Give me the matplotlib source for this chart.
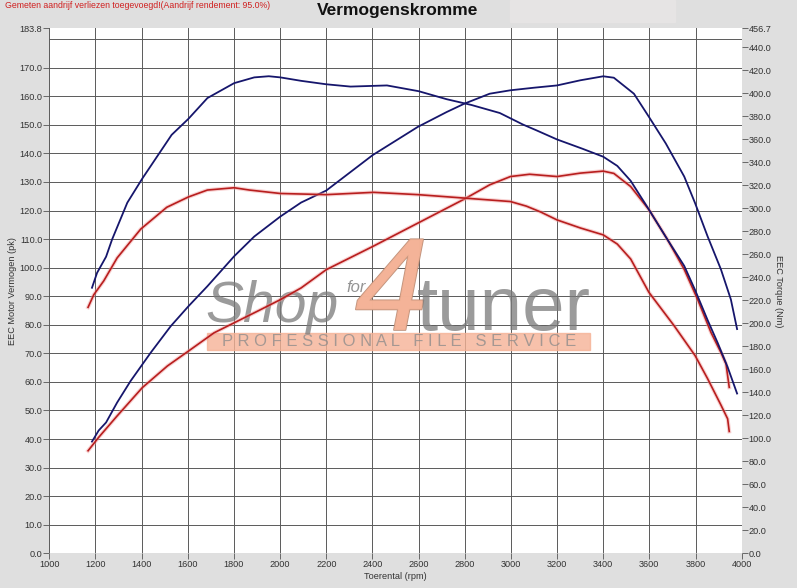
import matplotlib
matplotlib.use("Agg")
import matplotlib.pyplot as plt
import matplotlib.patheffects as pe
from matplotlib.patches import Rectangle

# tuned (blue) torque, Nm
rpm_tq_tuned = [1185, 1207, 1246, 1272, 1338, 1403, 1530, 1603, 1685, 1801, 1888, 1951, 2001, 2091,
                2200, 2305, 2463, 2600, 2722, 2829, 2952, 3052, 3110, 3200, 3309, 3400, 3461, 3519,
                3598, 3678, 3751, 3798, 3852, 3896, 3939, 3980]
tq_tuned = [231, 244, 258, 273, 305, 326, 364, 378, 396, 409, 414, 415, 414, 411,
            408, 406, 407, 402, 395, 390, 383, 373, 368, 360, 352, 345, 337, 324,
            299, 273, 250, 229, 203, 183, 162, 139]

# tuned (blue) power, pk
rpm_pk_tuned = [1185, 1214, 1246, 1294, 1352, 1439, 1526, 1603, 1685, 1801, 1888, 2001, 2091, 2200,
                2401, 2597, 2722, 2798, 2908, 2998, 3100, 3200, 3301, 3400, 3446, 3533, 3598, 3671,
                3751, 3798, 3852, 3910, 3953, 3980]
pk_tuned = [39.1, 43.0, 45.8, 52.8, 60.3, 70.2, 79.5, 86.5, 93.5, 104.0, 110.9, 117.9, 122.8, 127.0,
            139.4, 149.3, 154.5, 157.4, 160.9, 162.1, 163.0, 163.8, 165.6, 167.0, 166.5, 160.9, 152.8, 143.5,
            131.9, 122.6, 111.0, 99.4, 88.9, 78.5]

# stock (red) torque, Nm
rpm_tq_stock = [1168, 1193, 1236, 1294, 1396, 1509, 1603, 1685, 1801, 1867, 2001, 2200, 2405, 2597,
                2798, 2998, 3067, 3128, 3200, 3301, 3400, 3461, 3519, 3598, 3707, 3798, 3852, 3910,
                3939, 3946]
tq_stock = [214, 225, 237, 257, 282, 301, 310, 316, 318, 316, 313, 312, 314, 312,
            309, 306, 302, 297, 290, 283, 277, 269, 256, 227, 198, 172, 152, 129,
            117, 106]

# stock (red) power, pk
rpm_pk_stock = [1168, 1214, 1294, 1403, 1512, 1603, 1714, 1801, 1903, 2001, 2091, 2200, 2401, 2597,
                2798, 2908, 2998, 3081, 3200, 3301, 3400, 3446, 3519, 3598, 3678, 3751, 3809, 3867,
                3910, 3932, 3946]
pk_stock = [35.9, 40.6, 48.1, 58.0, 65.6, 70.8, 77.2, 80.7, 84.8, 88.8, 92.9, 99.3, 107.4, 115.6,
            124.0, 129.0, 131.9, 132.7, 131.9, 133.1, 133.8, 133.0, 128.4, 120.3, 109.9, 99.4, 88.9, 77.3,
            70.3, 66.3, 58.1]

x_ticks = list(range(1000, 4001, 200))
left_ticks = list(range(0, 171, 10)) + [183.8]
right_ticks = list(range(0, 441, 20)) + [456.7]
grid_rows = list(range(10, 181, 10))

FONT = "Liberation Sans"
plt.rcParams["font.family"] = [FONT, "DejaVu Sans"]
W, H = 797, 588
BG = "#dfdfdf"
BLUE = "#16166c"
RED = "#b81e1e"


def fx(px):
    return px / W


def fy(py):
    return 1 - py / H


fig = plt.figure(figsize=(W / 100, H / 100), dpi=100, facecolor=BG)
fig.patches.append(Rectangle((fx(510), fy(22)), fx(675) - fx(510), 22 / H,
                             transform=fig.transFigure, color="#e6e4e4", zorder=0))

ax = fig.add_axes([fx(49.3), fy(553.3), fx(741.7) - fx(49.3), (553.3 - 28.3) / H])
ax.set_facecolor("white")
ax.set_xlim(1000, 4000)
ax.set_ylim(0, 183.8)
for s in ax.spines.values():
    s.set_visible(False)

ax.set_xticks(x_ticks)
ax.set_xticklabels([str(v) for v in x_ticks])
ax.set_yticks(left_ticks)
ax.set_yticklabels(["%.1f" % v for v in left_ticks])
ax.tick_params(direction="out", length=4, width=0.6, color="#555555",
               labelsize=6.6, labelcolor="#333333", pad=1)
ax.grid(axis="x", color="#5a5a5a", linewidth=0.7, zorder=0.5)
for r in grid_rows:
    ax.axhline(r, color="#5a5a5a", linewidth=0.7, zorder=0.5)
ax.set_axisbelow(True)
ax.set_xlabel("Toerental (rpm)", fontsize=6.6, color="#333333", labelpad=2)
ax.set_ylabel("EEC Motor Vermogen (pk)", fontsize=6.6, color="#333333", labelpad=2)

# watermark
ax.add_patch(Rectangle((fx(207), fy(350)), fx(590) - fx(207), 17 / H, transform=fig.transFigure,
                       color="#f5b296", alpha=0.8, zorder=1.2, clip_on=False))
ax.text(fx(399), fy(342), "P R O F E S S I O N A L   F I L E   S E R V I C E", transform=fig.transFigure,
        ha="center", va="center", fontsize=12, color="#8a8a8a", alpha=0.75, zorder=1.3)
ax.text(fx(205), fy(322), "Shop", transform=fig.transFigure, ha="left", va="baseline",
        fontsize=41, style="italic", color="#7a7a7a", alpha=0.75, zorder=1.3)
ax.text(fx(355), fy(330), "4", transform=fig.transFigure, ha="left", va="baseline",
        fontsize=95, style="italic", color="#f4b397", alpha=0.9, zorder=1.3,
        path_effects=[pe.withStroke(linewidth=1.2, foreground="#b98870")])
ax.text(fx(346), fy(292), "for", transform=fig.transFigure, ha="left", va="baseline",
        fontsize=12, style="italic", color="#7a7a7a", alpha=0.8, zorder=1.4)
ax.text(fx(417), fy(330), "tuner", transform=fig.transFigure, ha="left", va="baseline",
        fontsize=55, color="#7a7a7a", alpha=0.75, zorder=1.3)

glow = [pe.Stroke(linewidth=2.8, foreground="#f09a9a", alpha=0.45), pe.Normal()]

ax.plot(rpm_pk_tuned, pk_tuned, color=BLUE, linewidth=1.3, zorder=2)
ax.plot(rpm_pk_stock, pk_stock, color=RED, linewidth=1.2, zorder=2, path_effects=glow)

ax2 = ax.twinx()
ax2.set_ylim(0, 456.7)
for s in ax2.spines.values():
    s.set_visible(False)
ax2.set_yticks(right_ticks)
ax2.set_yticklabels(["%.1f" % v for v in right_ticks])
ax2.tick_params(direction="out", length=4, width=0.6, color="#555555",
                labelsize=6.6, labelcolor="#333333", pad=1)
ax2.set_ylabel("EEC Torque (Nm)", fontsize=6.6, color="#333333", rotation=270, labelpad=8)

ax2.plot(rpm_tq_tuned, tq_tuned, color=BLUE, linewidth=1.3)
ax2.plot(rpm_tq_stock, tq_stock, color=RED, linewidth=1.2, path_effects=glow)

fig.text(fx(5), fy(6), "Gemeten aandrijf verliezen toegevoegd!(Aandrijf rendement: 95.0%)",
         ha="left", va="center", fontsize=6.3, color="#d02020")
fig.text(fx(398), fy(10), "Vermogenskromme", ha="center", va="center",
         fontsize=12.5, fontweight="bold", color="#111111")

fig.savefig("out.png", dpi=100, facecolor=BG)
